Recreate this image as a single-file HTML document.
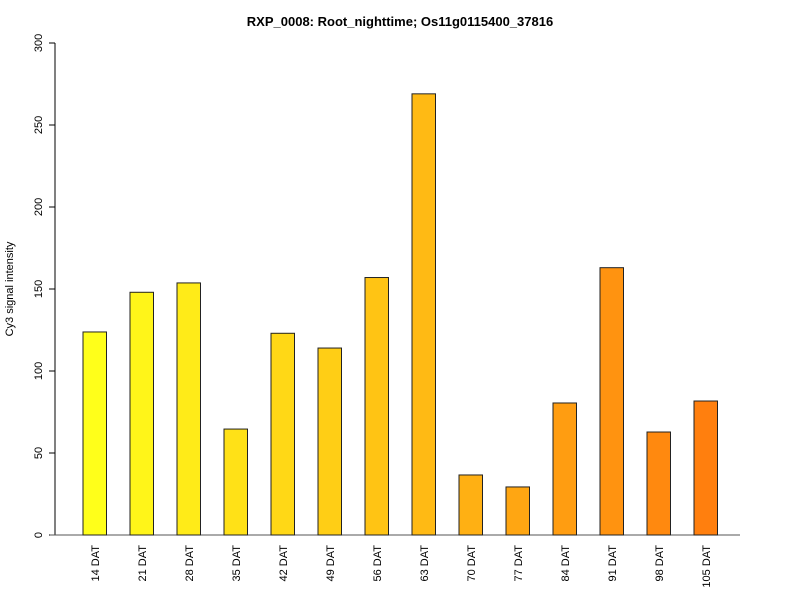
<!DOCTYPE html>
<html><head><meta charset="utf-8"><style>body{margin:0;background:#fff}svg{display:block}text{font-family:"Liberation Sans",Arial,sans-serif}</style></head>
<body>
<svg id="c" width="800" height="600">
<text x="400" y="26" text-anchor="middle" font-size="13" font-weight="bold">RXP_0008: Root_nighttime; Os11g0115400_37816</text>
<text transform="translate(13,289) rotate(-90)" text-anchor="middle" font-size="11">Cy3 signal intensity</text>
</svg>
<script>
const categories=["14 DAT","21 DAT","28 DAT","35 DAT","42 DAT","49 DAT","56 DAT","63 DAT","70 DAT","77 DAT","84 DAT","91 DAT","98 DAT","105 DAT"];
const values=[123.8,148,153.7,64.6,123,114,157,269,36.6,29.3,80.5,163,62.8,81.7];
const yTicks=[0,50,100,150,200,250,300];
const svg=document.getElementById('c');const NS='http://www.w3.org/2000/svg';
function mk(t,a){const e=document.createElementNS(NS,t);for(const k in a)e.setAttribute(k,a[k]);svg.appendChild(e);return e;}
const y=v=>535-v*492/300;
const x=i=>83+i*47;
const bw=23.5;
const ax=mk('line',{x1:55,x2:55,y1:y(0),y2:y(300),stroke:'#000'});


yTicks.forEach(t=>{
 const l=mk('line',{x1:49,x2:55,y1:y(t),y2:y(t),stroke:'#000'});
 
 
 const tx=mk('text',{transform:`translate(42,${y(t)}) rotate(-90)`,'text-anchor':'middle','font-size':'11'});
 tx.textContent=t;
 
 
});
const xl=mk('line',{x1:50,x2:740,y1:535,y2:535,stroke:'#555'});


const n=values.length;
values.forEach((v,i)=>{
 const f=i/(n-1);
 const g=Math.round(255-f*(255-127)),b=Math.round(26-f*(26-14));
 const r=mk('rect',{x:x(i),y:y(v),width:bw,height:y(0)-y(v),fill:`rgb(255,${g},${b})`,stroke:'#222','stroke-width':1});
 
 
 const t=mk('text',{transform:`translate(${x(i)+bw/2+4},545) rotate(-90)`,'text-anchor':'end','font-size':'11'});
 t.textContent=categories[i];
 
 
});
</script>
</body></html>
